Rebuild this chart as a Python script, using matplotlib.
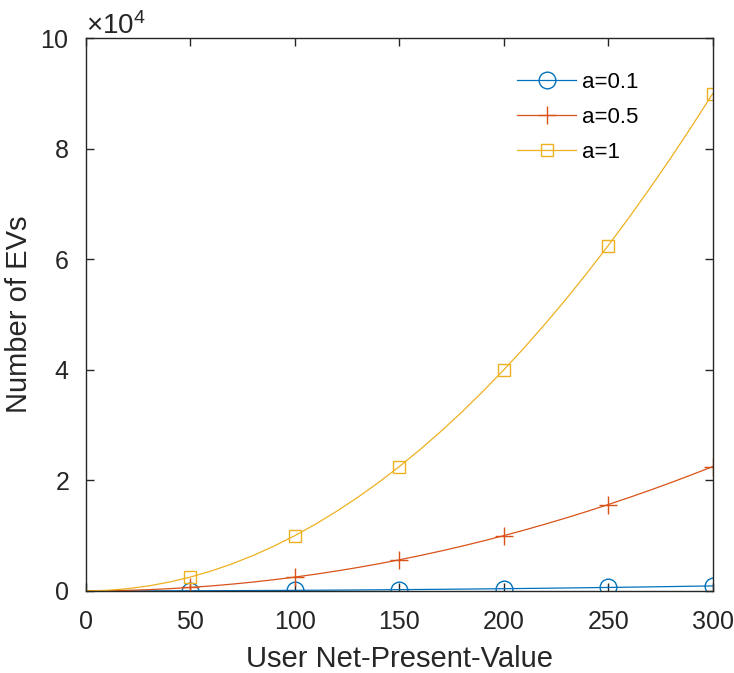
import matplotlib
matplotlib.use("Agg")
import matplotlib.pyplot as plt
import matplotlib.ticker as ptick

# values (step of 10 along the x axis)
npv = [0, 10, 20, 30, 40, 50, 60, 70, 80, 90, 100, 110, 120, 130, 140, 150,
       160, 170, 180, 190, 200, 210, 220, 230, 240, 250, 260, 270, 280, 290, 300]
evs_a01 = [0, 1, 4, 9, 16, 25, 36, 49, 64, 81, 100, 121, 144, 169, 196, 225,
           256, 289, 324, 361, 400, 441, 484, 529, 576, 625, 676, 729, 784, 841, 900]
evs_a05 = [0, 25, 100, 225, 400, 625, 900, 1225, 1600, 2025, 2500, 3025, 3600,
           4225, 4900, 5625, 6400, 7225, 8100, 9025, 10000, 11025, 12100, 13225,
           14400, 15625, 16900, 18225, 19600, 21025, 22500]
evs_a1 = [0, 100, 400, 900, 1600, 2500, 3600, 4900, 6400, 8100, 10000, 12100,
          14400, 16900, 19600, 22500, 25600, 28900, 32400, 36100, 40000, 44100,
          48400, 52900, 57600, 62500, 67600, 72900, 78400, 84100, 90000]
labels = ["a=0.1", "a=0.5", "a=1"]
xticks = [0, 50, 100, 150, 200, 250, 300]
yticks = [0, 20000, 40000, 60000, 80000, 100000]

plt.rcParams['font.family'] = ['Liberation Sans', 'DejaVu Sans']
plt.rcParams['mathtext.fontset'] = 'custom'
plt.rcParams['mathtext.rm'] = 'Liberation Sans'
plt.rcParams['mathtext.it'] = 'Liberation Sans'

fig = plt.figure(figsize=(7.34, 6.73), dpi=100)
ax = fig.add_axes([0.117, 0.122, 0.854, 0.821])

marks = slice(5, None, 5)
ax.plot(npv, evs_a01, color="#0072BD", lw=0.9, marker="o", ms=12, mfc="none",
        mew=1.0, markevery=marks, label=labels[0])
ax.plot(npv, evs_a05, color="#D95319", lw=0.9, marker="+", ms=13,
        mew=1.0, markevery=marks, label=labels[1])
ax.plot(npv, evs_a1, color="#EDB120", lw=0.9, marker="s", ms=9, mfc="none",
        mew=1.0, markevery=marks, label=labels[2])

ax.set_xlim(0, 300)
ax.set_ylim(0, 100000)
ax.set_xticks(xticks)
ax.set_yticks(yticks)

fmt = ptick.ScalarFormatter(useMathText=True)
fmt.set_powerlimits((4, 4))
ax.yaxis.set_major_formatter(fmt)
off = ax.yaxis.get_offset_text()
off.set_fontsize(20)
off.set_color("#262626")

ax.tick_params(direction="in", length=6, width=1, labelsize=18,
               colors="#262626", top=True, right=True)
ax.tick_params(axis="x", pad=14)
ax.tick_params(axis="y", pad=12)
for sp in ax.spines.values():
    sp.set_color("#262626")
    sp.set_linewidth(1.0)

ax.set_xlabel("User Net-Present-Value", fontsize=21, color="#262626", labelpad=8)
ax.set_ylabel("Number of EVs", fontsize=21, color="#262626")
ax.yaxis.set_label_coords(-0.085, 0.5)

ax.legend(loc="upper left", bbox_to_anchor=(0.656, 0.975), frameon=False,
          fontsize=16, handlelength=2.67, labelspacing=0.62, handletextpad=0.25)

fig.savefig("out.png", dpi=100)
